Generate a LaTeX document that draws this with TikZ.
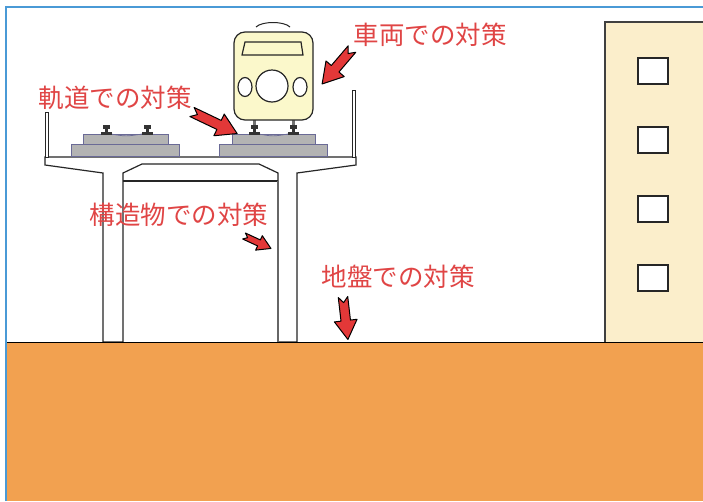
\documentclass[tikz,border=0pt]{standalone}
\usepackage{fontspec}
\newfontfamily\jpfont{Noto Sans CJK JP}
\definecolor{frameblue}{HTML}{4A9AD6}
\definecolor{groundc}{HTML}{F2A150}
\definecolor{buildc}{HTML}{FBEECB}
\definecolor{trainc}{HTML}{FBF8CB}
\definecolor{slabc}{HTML}{B3B3B3}
\definecolor{slabedge}{HTML}{6A6A96}
\definecolor{labelred}{HTML}{E04545}
\definecolor{arrowred}{HTML}{E33838}
\tikzset{
  outline/.style={draw=black!85, line width=1.2pt},
  slab/.style={fill=slabc, draw=slabedge, line width=0.9pt},
  railstyle/.style={fill=black!80, draw=black!80, line width=0.4pt},
  redarrow/.style={fill=arrowred, draw=black, line width=1pt, line join=round},
  label/.style={text=labelred, font=\jpfont\fontsize{25.5}{28}\selectfont, inner sep=0pt},
}
% block arrow: start point, angle, length, scale
\newcommand\blockarrow[4]{%
  \draw[redarrow, shift={#1}, rotate=#2, scale=#4]
    (0,5) -- (#3-20,5) -- (#3-20,12) -- (#3,0) -- (#3-20,-12) -- (#3-20,-5)
    -- (0,-5) -- (6,0) -- cycle;}
% rail profile centred at x
\newcommand\railat[1]{%
  \path[railstyle] (#1-3,125) rectangle (#1+3,128);
  \path[railstyle] (#1-1,128) rectangle (#1+1,132);
  \path[railstyle] (#1-5,132) rectangle (#1+5,134);}
\begin{document}
\begin{tikzpicture}[x=1pt, y=-1pt]
\useasboundingbox (0,0) rectangle (703,501);
\fill[white] (0,0) rectangle (703,501);

% ground
\fill[groundc] (6,342) rectangle (703,501);

% building with windows
\fill[buildc] (605,22) rectangle (703,342);
\draw[outline, draw=black!75] (703,22) -- (605,22) -- (605,342);
\foreach \wy in {58,127,196,265}
  \draw[outline, fill=white] (638,\wy) rectangle (668,\wy+26);

% viaduct
\draw[outline, fill=white] (45,157) -- (356,157) -- (356,165) -- (297,173) -- (297,342)
  -- (278,342) -- (278,173) -- (259,164) -- (142,164) -- (123,173) -- (123,342)
  -- (103,342) -- (103,173) -- (45,165) -- cycle;
\draw[outline] (123,181) -- (278,181);
\draw[outline, draw=black!60, line width=1.6pt] (278,181) -- (278,342);
% parapets
\draw[outline, fill=white, line width=0.9pt] (45,112) rectangle (48,157);
\draw[outline, fill=white, line width=0.9pt] (352,90) rectangle (355,157);

% track slabs
\draw[slab] (71,144) rectangle (179,156);
\draw[slab] (83,134) rectangle (168,144);
\draw[slab] (219,144) rectangle (327,156);
\draw[slab] (232,134) rectangle (315,144);
\draw[slabedge, line width=0.7pt] (111,134) .. controls (126,136.5) .. (142,134);
\draw[slabedge, line width=0.7pt] (259,134) .. controls (273,136.5) .. (288,134);
\railat{106}\railat{147}\railat{254}\railat{293}

% train
\fill[black!55] (253,119) rectangle (256,125);
\fill[black!55] (292,119) rectangle (295,125);
\draw[outline, fill=trainc, rounded corners=11pt] (234,32) rectangle (313,120);
\draw[outline] (245,42) -- (301,42) -- (303,55) -- (242,55) -- cycle;
\draw[outline, fill=white] (272,86) circle[radius=16];
\draw[outline, fill=white] (245,87) ellipse[x radius=7, y radius=9.5];
\draw[outline, fill=white] (300,87) ellipse[x radius=7, y radius=9.5];
\draw[outline, line width=1pt] (256,27) .. controls (262,21) and (284,21) .. (290,27);

% labels
\node[label] (vehicle) at (430,35) {車両での対策};
\node[label] (track) at (115,98) {軌道での対策};
\node[label] (structure) at (179,215) {構造物での対策};
\node[label] (soil) at (398,277) {地盤での対策};

% arrows
\blockarrow{(352,49)}{-130.5}{46}{1}
\blockarrow{(192,112)}{-25.5}{50}{1}
\blockarrow{(244,236)}{-24.8}{45}{0.66}
\blockarrow{(343,297)}{-83.4}{45}{0.95}

% ground line and frame
\draw[black, line width=1pt] (6,342) -- (703,342);
\draw[frameblue, line width=1.3pt] (6,501) -- (6,7) -- (703,7);
\end{tikzpicture}
\end{document}
